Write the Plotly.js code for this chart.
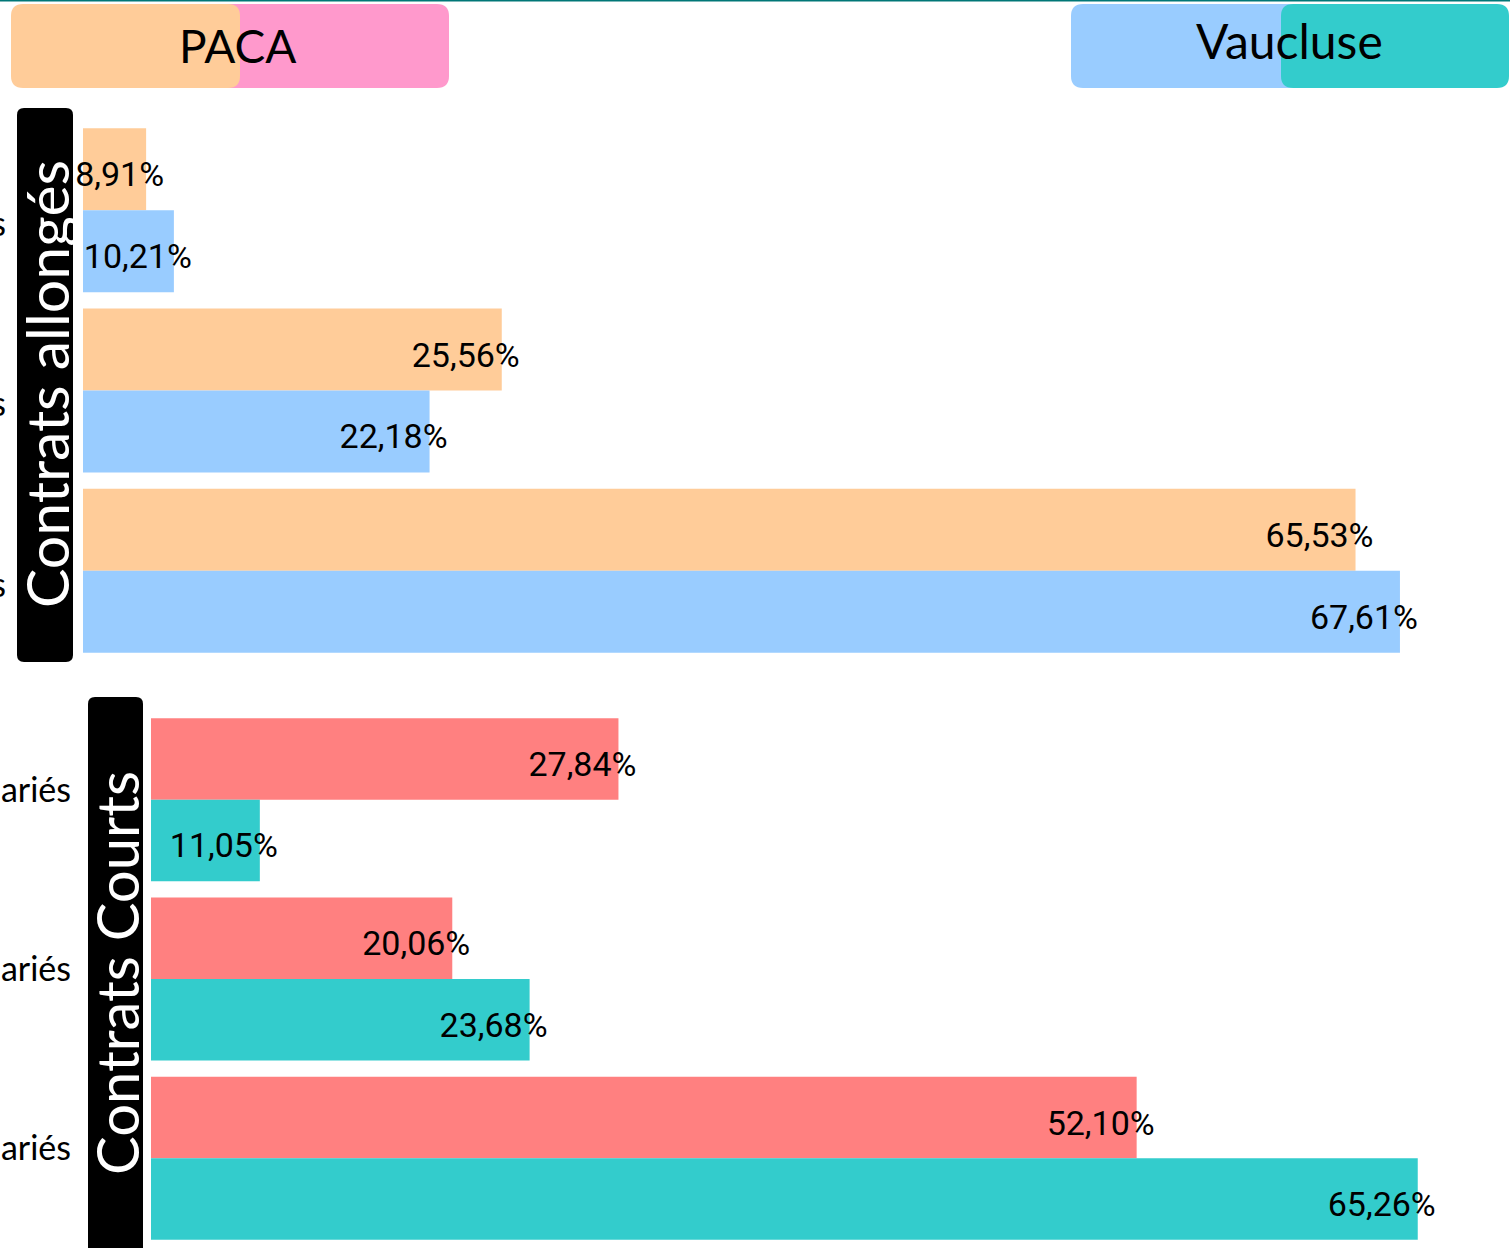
<!DOCTYPE html>
<html>
<head>
<meta charset="utf-8">
<script src="https://cdn.plot.ly/plotly-3.0.1.min.js"></script>
<style>html,body{margin:0;padding:0;background:#fff;overflow:hidden;}</style>
</head>
<body>
<div id="chart" style="width:1510px;height:1248px;"></div>
<script>
// ---- data ----
const categories = ["De 1 à 9 salariés", "De 10 à 49 salariés", "Plus de 50 salariés"];
const seriesNames = ["PACA", "Vaucluse"];
const allongesPaca = [8.91, 25.56, 65.53];
const allongesVaucluse = [10.21, 22.18, 67.61];
const courtsPaca = [27.84, 20.06, 52.10];
const courtsVaucluse = [11.05, 23.68, 65.26];
const panelTitles = ["Contrats allongés", "Contrats Courts"];

// ---- layout helpers ----
const W = 1510, H = 1248;
const px = x => x / W;
const py = y => 1 - y / H;
function roundRect(x0, y0, x1, y1, r) {
  return 'M' + px(x0 + r) + ',' + py(y0) +
    ' L' + px(x1 - r) + ',' + py(y0) +
    ' Q' + px(x1) + ',' + py(y0) + ' ' + px(x1) + ',' + py(y0 + r) +
    ' L' + px(x1) + ',' + py(y1 - r) +
    ' Q' + px(x1) + ',' + py(y1) + ' ' + px(x1 - r) + ',' + py(y1) +
    ' L' + px(x0 + r) + ',' + py(y1) +
    ' Q' + px(x0) + ',' + py(y1) + ' ' + px(x0) + ',' + py(y1 - r) +
    ' L' + px(x0) + ',' + py(y0 + r) +
    ' Q' + px(x0) + ',' + py(y0) + ' ' + px(x0 + r) + ',' + py(y0) + ' Z';
}
const fmt = arr => arr.map(v => v.toFixed(2).replace('.', ',') + '%');

const colors = {
  allPaca: '#FFCC99', allVau: '#99CCFF',
  crtPaca: '#FF8080', crtVau: '#33CCCC', pink: '#FF99CC'
};

const x0 = 5.955;          // axis start
const pxPerUnit = 21.36;
const topLeft = 83, botLeft = 151, right = 1505;
const topTop = 120, topBottom = 661, botTop = 710, botBottom = 1248;
const topRange = [x0, x0 + (right - topLeft) / pxPerUnit];
const botRange = [x0, x0 + (right - botLeft) / pxPerUnit];
const shift = 21 / pxPerUnit;
const nCat = categories.length;
const dyTop = 5 / ((topBottom - topTop) / nCat);
const dyBot = 5 / ((botBottom - botTop) / nCat);
const catRange = [nCat - 0.5, -0.5];

function barTrace(vals, name, color, xa, ya) {
  return {type: 'bar', orientation: 'h', x: vals, y: categories, name: name,
    xaxis: xa, yaxis: ya, marker: {color: color}, hoverinfo: 'x+y+name'};
}
function textTrace(vals, name, xa, ya) {
  return {type: 'bar', orientation: 'h', x: vals, y: categories, name: name,
    xaxis: xa, yaxis: ya, marker: {color: 'rgba(0,0,0,0)'},
    text: fmt(vals), textposition: 'inside', insidetextanchor: 'end',
    constraintext: 'none', textangle: 0, cliponaxis: false,
    textfont: {family: 'Roboto, sans-serif', size: 34, color: '#000'},
    hoverinfo: 'skip', showlegend: false};
}

const data = [
  barTrace(allongesPaca, seriesNames[0], colors.allPaca, 'x', 'y'),
  barTrace(allongesVaucluse, seriesNames[1], colors.allVau, 'x', 'y'),
  barTrace(courtsPaca, seriesNames[0], colors.crtPaca, 'x2', 'y2'),
  barTrace(courtsVaucluse, seriesNames[1], colors.crtVau, 'x2', 'y2'),
  textTrace(allongesPaca, seriesNames[0], 'x3', 'y3'),
  textTrace(allongesVaucluse, seriesNames[1], 'x3', 'y3'),
  textTrace(courtsPaca, seriesNames[0], 'x4', 'y4'),
  textTrace(courtsVaucluse, seriesNames[1], 'x4', 'y4')
];

const hiddenX = {visible: false, showgrid: false, zeroline: false, fixedrange: true};
const catY = {
  type: 'category', range: catRange, autorange: false, showgrid: false, zeroline: false,
  showline: false, ticks: '', ticklabelstandoff: 76,
  tickfont: {family: 'Lato, sans-serif', size: 34, color: '#000'}
};
const hiddenY = {type: 'category', visible: false, showgrid: false, zeroline: false, autorange: false};

const layout = {
  width: W, height: H,
  margin: {l: 0, r: 0, t: 0, b: 0, pad: 0},
  paper_bgcolor: '#fff', plot_bgcolor: 'rgba(0,0,0,0)',
  barmode: 'group', bargap: 0.091, bargroupgap: 0,
  showlegend: false,
  xaxis: Object.assign({}, hiddenX, {domain: [px(topLeft), px(right)], anchor: 'y', range: topRange}),
  xaxis2: Object.assign({}, hiddenX, {domain: [px(botLeft), px(right)], anchor: 'y2', range: botRange}),
  xaxis3: Object.assign({}, hiddenX, {overlaying: 'x', anchor: 'y', range: [topRange[0] - shift, topRange[1] - shift]}),
  xaxis4: Object.assign({}, hiddenX, {overlaying: 'x2', anchor: 'y2', range: [botRange[0] - shift, botRange[1] - shift]}),
  yaxis: Object.assign({}, catY, {domain: [py(topBottom), py(topTop)], anchor: 'x', ticklabelshift: -14}),
  yaxis2: Object.assign({}, catY, {domain: [0, py(botTop)], anchor: 'x2', ticklabelstandoff: 79, ticklabelshift: 10}),
  yaxis3: Object.assign({}, hiddenY, {overlaying: 'y', anchor: 'x', range: [catRange[0] - dyTop, catRange[1] - dyTop]}),
  yaxis4: Object.assign({}, hiddenY, {overlaying: 'y2', anchor: 'x2', range: [catRange[0] - dyBot, catRange[1] - dyBot]}),
  shapes: [
    {type: 'line', xref: 'paper', yref: 'paper', x0: 0, x1: 1, y0: py(0.5), y1: py(0.5),
      line: {color: '#007777', width: 2}},
    {type: 'path', xref: 'paper', yref: 'paper', path: roundRect(215, 4, 449, 88, 12),
      fillcolor: colors.pink, line: {width: 0}},
    {type: 'path', xref: 'paper', yref: 'paper', path: roundRect(11, 4, 240, 88, 12),
      fillcolor: colors.allPaca, line: {width: 0}},
    {type: 'path', xref: 'paper', yref: 'paper', path: roundRect(1071, 4, 1300, 88, 12),
      fillcolor: colors.allVau, line: {width: 0}},
    {type: 'path', xref: 'paper', yref: 'paper', path: roundRect(1281, 4, 1509, 88, 12),
      fillcolor: colors.crtVau, line: {width: 0}},
    {type: 'path', xref: 'paper', yref: 'paper', path: roundRect(17, 108, 73, 662, 7),
      fillcolor: '#000', line: {width: 0}},
    {type: 'path', xref: 'paper', yref: 'paper', path: roundRect(88, 697, 143, 1262, 7),
      fillcolor: '#000', line: {width: 0}}
  ],
  annotations: [
    {xref: 'paper', yref: 'paper', x: px(237), y: py(46), text: seriesNames[0], showarrow: false,
      xanchor: 'center', yanchor: 'middle', font: {family: 'Lato, sans-serif', size: 46, color: '#000'}},
    {xref: 'paper', yref: 'paper', x: px(1289), y: py(41), text: seriesNames[1], showarrow: false,
      xanchor: 'center', yanchor: 'middle', font: {family: 'Lato, sans-serif', size: 48, color: '#000'}},
    {xref: 'paper', yref: 'paper', x: px(46), y: py(384), text: panelTitles[0], showarrow: false,
      textangle: -90, xanchor: 'center', yanchor: 'middle',
      font: {family: 'Lato, sans-serif', size: 59, color: '#fff'}},
    {xref: 'paper', yref: 'paper', x: px(116), y: py(973), text: panelTitles[1], showarrow: false,
      textangle: -90, xanchor: 'center', yanchor: 'middle',
      font: {family: 'Lato, sans-serif', size: 58, color: '#fff'}}
  ]
};

Plotly.newPlot('chart', data, layout, {staticPlot: true, displayModeBar: false});
</script>
</body>
</html>
